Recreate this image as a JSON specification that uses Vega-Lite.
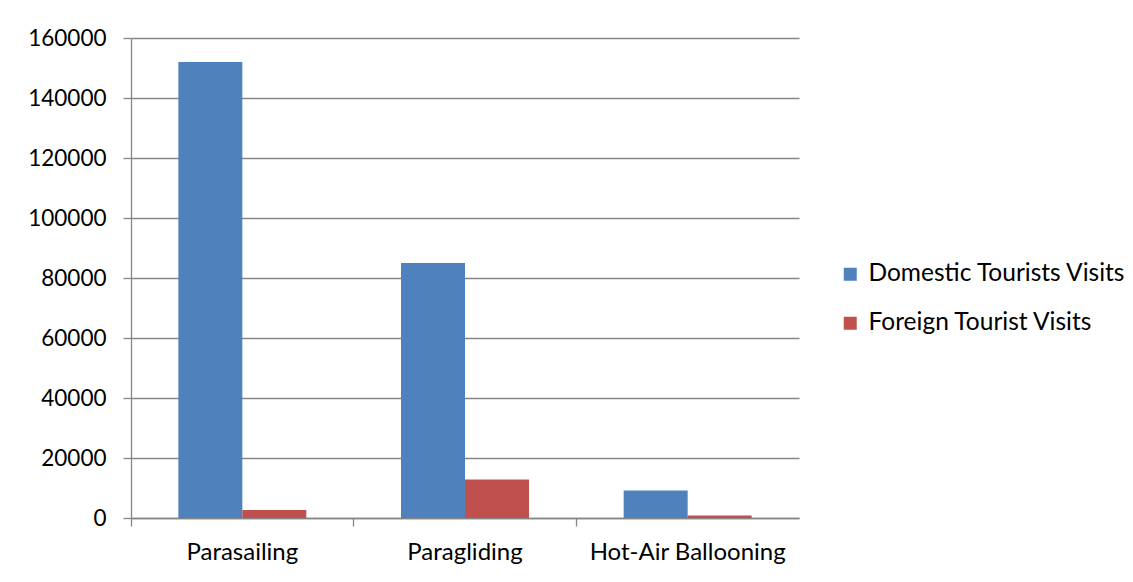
{
  "$schema": "https://vega.github.io/schema/vega-lite/v6.json",
  "width": 668,
  "height": 480,
  "padding": {"left": 27, "top": 27, "right": 5, "bottom": 5},
  "background": "white",
  "data": {
    "values": [
      {"activity": "Parasailing", "series": "Domestic Tourists Visits", "visits": 152000},
      {"activity": "Parasailing", "series": "Foreign Tourist Visits", "visits": 2700},
      {"activity": "Paragliding", "series": "Domestic Tourists Visits", "visits": 85000},
      {"activity": "Paragliding", "series": "Foreign Tourist Visits", "visits": 12800},
      {"activity": "Hot-Air Ballooning", "series": "Domestic Tourists Visits", "visits": 9200},
      {"activity": "Hot-Air Ballooning", "series": "Foreign Tourist Visits", "visits": 800}
    ]
  },
  "mark": {"type": "bar"},
  "encoding": {
    "x": {
      "field": "activity",
      "type": "nominal",
      "sort": ["Parasailing", "Paragliding", "Hot-Air Ballooning"],
      "scale": {"paddingInner": 0, "paddingOuter": 0},
      "axis": {
        "title": null,
        "labelAngle": 0,
        "bandPosition": 0,
        "tickSize": 8,
        "labelPadding": 14,
        "labelFontSize": 24,
        "labelLimit": 400,
        "labelColor": "#000000"
      }
    },
    "xOffset": {
      "field": "series",
      "type": "nominal",
      "sort": ["Domestic Tourists Visits", "Foreign Tourist Visits"],
      "scale": {"paddingInner": 0, "paddingOuter": 0.74}
    },
    "y": {
      "field": "visits",
      "type": "quantitative",
      "scale": {"domain": [0, 160000], "nice": false},
      "axis": {
        "title": null,
        "values": [0, 20000, 40000, 60000, 80000, 100000, 120000, 140000, 160000],
        "format": "d",
        "tickSize": 8,
        "labelPadding": 17,
        "labelFontSize": 22.5,
        "labelColor": "#000000",
        "grid": true
      }
    },
    "color": {
      "field": "series",
      "type": "nominal",
      "sort": ["Domestic Tourists Visits", "Foreign Tourist Visits"],
      "scale": {"range": ["#4F81BD", "#C0504D"]},
      "legend": {
        "title": null,
        "orient": "none",
        "legendX": 707,
        "legendY": 224,
        "symbolType": "square",
        "symbolSize": 169,
        "symbolStrokeWidth": 0,
        "labelFontSize": 24.5,
        "labelLimit": 400,
        "labelColor": "#000000",
        "rowPadding": 24,
        "labelOffset": 6
      }
    }
  },
  "config": {
    "font": "Lato",
    "view": {"stroke": null},
    "axis": {
      "domainColor": "#868686",
      "tickColor": "#868686",
      "gridColor": "#868686",
      "domainWidth": 1.3,
      "tickWidth": 1.3,
      "gridWidth": 1.3,
      "labelFont": "Lato"
    },
    "legend": {"labelFont": "Lato"}
  }
}
